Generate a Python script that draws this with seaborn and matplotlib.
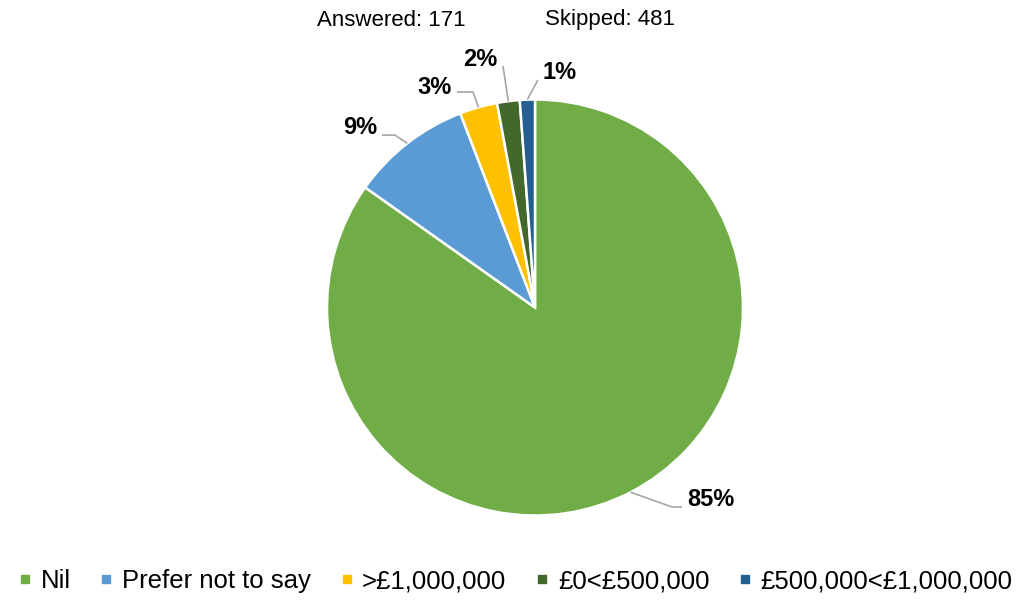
import matplotlib
matplotlib.use("Agg")
import matplotlib.pyplot as plt
import seaborn as sns
import numpy as np
from matplotlib.lines import Line2D

# Data
categories = ["Nil", "Prefer not to say", ">£1,000,000", "£0<£500,000", "£500,000<£1,000,000"]
counts = [145, 16, 5, 3, 2]
skipped = 481
colors = ["#70AD47", "#5B9BD5", "#FFC000", "#43682B", "#255E91"]

# Label layout in pie units (radius = 1): text anchor, elbow, line end, alignment
label_text = [(0.731, -0.925), (-0.760, 0.863), (-0.399, 1.060), (-0.183, 1.190), (0.038, 1.132)]
label_elbow = [(0.659, -0.959), (-0.673, 0.829), (-0.298, 1.036), (-0.154, 1.161), (0.014, 1.094)]
label_end = [(0.707, -0.959), (-0.736, 0.829), (-0.375, 1.036), (-0.154, 1.161), (0.014, 1.094)]
label_ha = ["left", "right", "right", "right", "left"]

sns.set_theme(style="white")
plt.rcParams['font.family'] = ['Liberation Sans', 'DejaVu Sans']
plt.rcParams['text.color'] = 'black'

fig = plt.figure(figsize=(10.17, 6.01), dpi=100)
ax = fig.add_axes([275 / 1017, 33.5 / 601, 520 / 1017, 520 / 601])

wedges, _ = ax.pie(counts, colors=colors, startangle=90, counterclock=False,
                   radius=1, wedgeprops=dict(edgecolor="white", linewidth=1.8))
ax.set_xlim(-1.25, 1.25)
ax.set_ylim(-1.25, 1.25)
ax.set_aspect("equal")
ax.axis("off")

total = sum(counts)
for i, w in enumerate(wedges):
    mid = np.deg2rad((w.theta1 + w.theta2) / 2)
    edge = (np.cos(mid), np.sin(mid))
    xs = [edge[0], label_elbow[i][0], label_end[i][0]]
    ys = [edge[1], label_elbow[i][1], label_end[i][1]]
    ax.plot(xs, ys, color="#A6A6A6", lw=1.2, solid_capstyle="butt")
    pct = round(100 * counts[i] / total)
    ax.text(label_text[i][0], label_text[i][1], f"{pct}%", ha=label_ha[i], va="center",
            fontsize=17, fontweight="bold", color="black")

fig.text(317 / 1017, 1 - 20 / 601, f"Answered: {total}", ha="left", va="center", fontsize=16)
fig.text(545 / 1017, 1 - 20 / 601, f"Skipped: {skipped}", ha="left", va="center", fontsize=16)

handles = [Line2D([], [], marker="s", linestyle="", color=c, markersize=6) for c in colors]
fig.legend(handles, categories, loc="center", bbox_to_anchor=(0.507, 0.033), ncol=5,
           frameon=False, fontsize=18.5, handlelength=0.5, handletextpad=0.35, columnspacing=1.15)

fig.savefig("out.png", dpi=100)
